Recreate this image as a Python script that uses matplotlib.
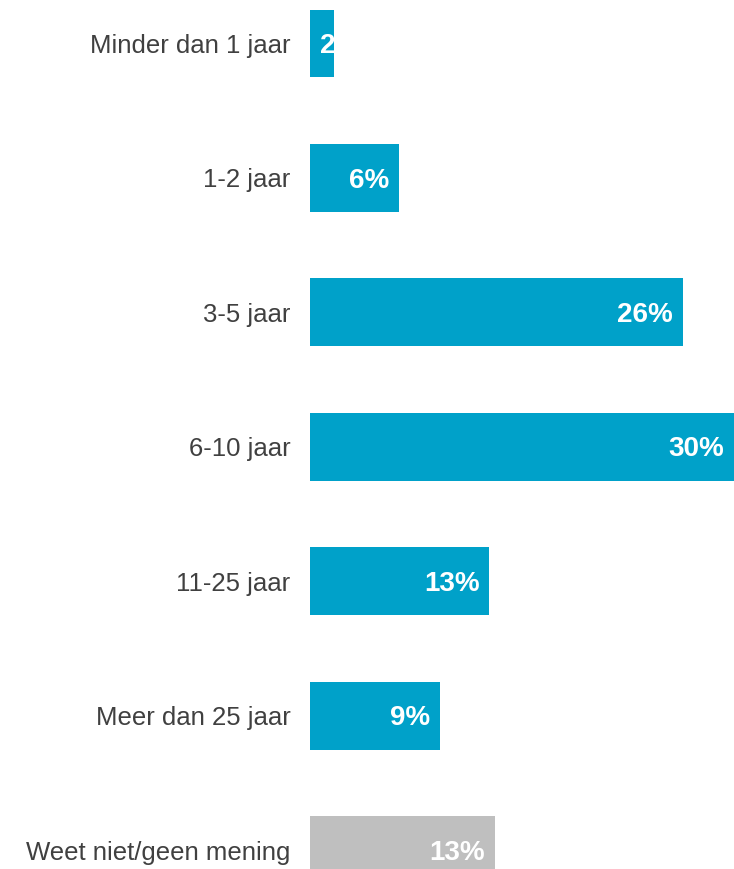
import matplotlib
matplotlib.use('Agg')
import matplotlib.pyplot as plt

categories = ['Minder dan 1 jaar', '1-2 jaar', '3-5 jaar', '6-10 jaar',
              '11-25 jaar', 'Meer dan 25 jaar', 'Weet niet/geen mening']
# bar lengths; labels are the printed (rounded) ones
values = [1.7, 6.3, 26.4, 30.0, 12.7, 9.2, 13.1]
labels = ['2%', '6%', '26%', '30%', '13%', '9%', '13%']
colors = ['#00A1C9'] * 6 + ['#BFBFBF']

plt.rcParams['font.family'] = ['Liberation Sans', 'DejaVu Sans']

fig = plt.figure(figsize=[7.34, 8.69], dpi=100)
ax = fig.add_axes([310 / 734, 0, 424 / 734, 1])

y = range(len(categories))
ax.barh(y, values, height=0.505, color=colors)
ax.set_xlim(0, 30)
ax.set_ylim(6.141, -0.324)

for i, v in enumerate(values):
    if v < 4:
        ax.text(0.7, i + 0.02, labels[i], ha='left', va='center', color='white',
                fontsize=20, fontweight='bold')
    else:
        ax.text(v - 0.7, i + 0.02, labels[i], ha='right', va='center', color='white',
                fontsize=20, fontweight='bold')

ax.set_yticks(list(y))
ax.set_yticklabels(categories, fontsize=18.5, color='#404040')
ax.tick_params(axis='y', length=0, pad=14)
ax.set_xticks([])
for s in ax.spines.values():
    s.set_visible(False)

fig.savefig('out.png', dpi=100)
